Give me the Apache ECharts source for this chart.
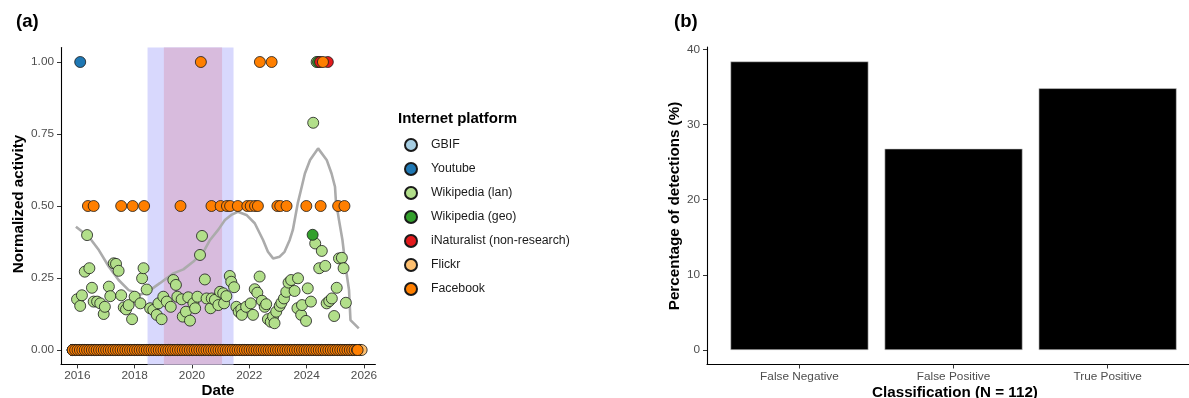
<!DOCTYPE html>
<html>
<head>
<meta charset="utf-8">
<script src="https://cdn.jsdelivr.net/npm/echarts@6/dist/echarts.min.js"></script>
<style>
  html, body { margin: 0; padding: 0; background: #ffffff; }
  #chart { width: 1189px; height: 398px; }
</style>
</head>
<body>
<div id="chart"></div>
<script>
// ---------- Panel (a): normalized activity per platform ----------
const platforms = ['GBIF', 'Youtube', 'Wikipedia (lan)', 'Wikipedia (geo)', 'iNaturalist (non-research)', 'Flickr', 'Facebook'];
const platformColors = ['#a6cee3', '#1f78b4', '#b2df8a', '#33a02c', '#e31a1c', '#fdbf6f', '#ff7f00'];

const yearTicks = [2016, 2018, 2020, 2022, 2024, 2026];
const activityTicks = [0, 0.25, 0.5, 0.75, 1.0];

// non-zero observations as [decimal year, normalized activity]
const wikiLanPoints = [
  [2015.99, 0.176], [2016.10, 0.153], [2016.16, 0.190], [2016.26, 0.272], [2016.34, 0.399],
  [2016.42, 0.284], [2016.51, 0.216], [2016.57, 0.168], [2016.69, 0.168], [2016.80, 0.162],
  [2016.92, 0.125], [2016.96, 0.150], [2017.10, 0.220], [2017.15, 0.187], [2017.27, 0.301],
  [2017.35, 0.299], [2017.44, 0.275], [2017.53, 0.190], [2017.62, 0.148], [2017.70, 0.141],
  [2017.79, 0.156], [2017.91, 0.107], [2018.00, 0.185], [2018.20, 0.162], [2018.26, 0.249],
  [2018.31, 0.284], [2018.42, 0.210], [2018.54, 0.145], [2018.65, 0.139], [2018.77, 0.122],
  [2018.83, 0.162], [2018.94, 0.107], [2019.00, 0.185], [2019.12, 0.168], [2019.26, 0.150],
  [2019.35, 0.243], [2019.44, 0.226], [2019.49, 0.185], [2019.64, 0.176], [2019.68, 0.116],
  [2019.79, 0.133], [2019.87, 0.183], [2019.93, 0.102], [2020.05, 0.162], [2020.11, 0.145],
  [2020.19, 0.185], [2020.28, 0.330], [2020.35, 0.396], [2020.45, 0.245], [2020.51, 0.179],
  [2020.65, 0.145], [2020.69, 0.179], [2020.80, 0.174], [2020.92, 0.156], [2020.98, 0.202],
  [2021.09, 0.197], [2021.12, 0.162], [2021.20, 0.187], [2021.32, 0.257], [2021.37, 0.237],
  [2021.47, 0.218], [2021.55, 0.150], [2021.63, 0.133], [2021.72, 0.141], [2021.74, 0.122],
  [2021.89, 0.150], [2022.05, 0.162], [2022.13, 0.122], [2022.19, 0.211], [2022.28, 0.199],
  [2022.36, 0.255], [2022.44, 0.171], [2022.54, 0.150], [2022.59, 0.159], [2022.65, 0.107],
  [2022.75, 0.098], [2022.83, 0.116], [2022.88, 0.093], [2022.94, 0.133], [2023.06, 0.153],
  [2023.12, 0.164], [2023.21, 0.179], [2023.29, 0.202], [2023.37, 0.234], [2023.46, 0.243],
  [2023.58, 0.205], [2023.68, 0.145], [2023.70, 0.249], [2023.81, 0.122], [2023.84, 0.156],
  [2023.98, 0.101], [2024.04, 0.214], [2024.15, 0.168], [2024.23, 0.789], [2024.30, 0.370],
  [2024.35, 1.000], [2024.44, 0.284], [2024.53, 0.344], [2024.65, 0.292], [2024.70, 0.162],
  [2024.79, 0.170], [2024.88, 0.179], [2024.96, 0.118], [2025.05, 0.216], [2025.13, 0.318],
  [2025.23, 0.320], [2025.29, 0.284], [2025.37, 0.164]
];
const wikiGeoPoints = [[2024.21, 0.40], [2024.40, 1.0]];
const youtubePoints = [[2016.10, 1.0]];
const inatPoints = [[2024.47, 1.0], [2024.74, 1.0]];
const facebookPoints = [
  [2016.37, 0.5], [2016.57, 0.5], [2017.53, 0.5], [2017.93, 0.5], [2018.33, 0.5],
  [2019.60, 0.5], [2020.68, 0.5], [2021.00, 0.5], [2021.22, 0.5], [2021.33, 0.5],
  [2021.60, 0.5], [2021.93, 0.5], [2022.05, 0.5], [2022.20, 0.5], [2022.30, 0.5],
  [2022.98, 0.5], [2023.08, 0.5], [2023.30, 0.5], [2023.99, 0.5], [2024.49, 0.5],
  [2025.10, 0.5], [2025.32, 0.5],
  [2020.31, 1.0], [2022.37, 1.0], [2022.78, 1.0], [2024.57, 1.0]
];

// months with no recorded activity (value 0): first and last month, in decimal years
const zeroRowSpan = {
  'GBIF': [2015.84, 2025.84],
  'Youtube': [2015.84, 2025.84],
  'Wikipedia (lan)': null,
  'Wikipedia (geo)': [2015.84, 2025.84],
  'iNaturalist (non-research)': [2015.84, 2025.84],
  'Flickr': [2015.84, 2025.92],
  'Facebook': [2015.84, 2025.78]
};

// smoothed overall trend
const trendLine = [
  [2015.95, 0.428], [2016.40, 0.393], [2016.75, 0.347], [2017.10, 0.289], [2017.44, 0.243],
  [2017.79, 0.208], [2018.19, 0.193], [2018.40, 0.198], [2018.54, 0.208], [2018.88, 0.232],
  [2019.35, 0.266], [2019.70, 0.280], [2020.05, 0.307], [2020.40, 0.341], [2020.63, 0.382],
  [2020.92, 0.418], [2021.15, 0.451], [2021.37, 0.469], [2021.60, 0.480], [2021.90, 0.469],
  [2022.19, 0.440], [2022.48, 0.382], [2022.65, 0.341], [2022.83, 0.318], [2023.06, 0.324],
  [2023.23, 0.341], [2023.41, 0.382], [2023.52, 0.417], [2023.69, 0.509], [2023.83, 0.567],
  [2023.94, 0.613], [2024.12, 0.660], [2024.40, 0.700], [2024.70, 0.660], [2024.87, 0.613],
  [2024.99, 0.567], [2025.02, 0.520], [2025.13, 0.451], [2025.25, 0.382], [2025.36, 0.289],
  [2025.48, 0.208], [2025.53, 0.104], [2025.82, 0.075]
];

// shaded periods [start, end]
const outerPeriod = [2018.45, 2021.45];
const innerPeriod = [2019.02, 2021.05];

const platformPoints = {
  'GBIF': [],
  'Youtube': youtubePoints,
  'Wikipedia (lan)': wikiLanPoints,
  'Wikipedia (geo)': wikiGeoPoints,
  'iNaturalist (non-research)': inatPoints,
  'Flickr': [],
  'Facebook': facebookPoints
};

// ---------- Panel (b): classification of detections ----------
const classes = ['False Negative', 'False Positive', 'True Positive'];
const classPercent = [38.39, 26.79, 34.82];
const percentTicks = [0, 10, 20, 30, 40];

// ---------- chart ----------
const FONT = '"Liberation Sans", Arial, Helvetica, sans-serif';
const tickText = { color: '#4d4d4d', fontSize: 11.8, fontFamily: FONT };
const TITLE_FONT = 'bold 15.2px ' + FONT;

// one zero-valued point per month between the first and last month
function zeroRow(span) {
  const out = [];
  if (!span) return out;
  for (let t = span[0]; t <= span[1] + 1e-6; t += 1 / 12) out.push([t, 0]);
  if (out.length && out[out.length - 1][0] < span[1] - 1e-6) out.push([span[1], 0]);
  return out;
}

const scatterSeries = platforms.map((name, i) => ({
  name: name,
  type: 'scatter',
  xAxisIndex: 0,
  yAxisIndex: 0,
  z: 3,
  symbol: 'circle',
  symbolSize: 11,
  itemStyle: { color: platformColors[i], borderColor: '#1a1a1a', borderWidth: 0.8, opacity: 1 },
  emphasis: { disabled: true },
  data: zeroRow(zeroRowSpan[name]).concat(platformPoints[name])
}));

const chart = echarts.init(document.getElementById('chart'), null, { renderer: 'canvas' });

chart.setOption({
  animation: false,
  backgroundColor: '#ffffff',
  textStyle: { fontFamily: FONT },
  grid: [
    { left: 61, top: 47.6, width: 314.4, height: 316.8, containLabel: false },
    { left: 707, top: 47, width: 482, height: 317.5, containLabel: false }
  ],
  xAxis: [
    {
      gridIndex: 0, type: 'value', min: 2015.43, max: 2026.40,
      axisLine: { show: true, onZero: false, lineStyle: { color: '#000', width: 1.1 } },
      axisTick: { show: true, length: 4, customValues: yearTicks, lineStyle: { color: '#333', width: 1 } },
      axisLabel: { ...tickText, margin: 5, customValues: yearTicks, formatter: v => String(Math.round(v)) },
      splitLine: { show: false }
    },
    {
      // the panel continues past the right edge of the canvas
      gridIndex: 1, type: 'value', min: 0.4, max: 3.528,
      axisLine: { show: true, onZero: false, lineStyle: { color: '#000', width: 1.1 } },
      axisTick: { show: true, length: 4, customValues: [1, 2, 3], lineStyle: { color: '#333', width: 1 } },
      axisLabel: { ...tickText, margin: 6, customValues: [1, 2, 3], formatter: v => classes[Math.round(v) - 1] },
      splitLine: { show: false }
    }
  ],
  yAxis: [
    {
      gridIndex: 0, type: 'value', min: -0.05, max: 1.05,
      axisLine: { show: true, onZero: false, lineStyle: { color: '#000', width: 1.1 } },
      axisTick: { show: true, length: 4, customValues: activityTicks, lineStyle: { color: '#333', width: 1 } },
      axisLabel: { ...tickText, margin: 7, customValues: activityTicks, formatter: v => v.toFixed(2) },
      splitLine: { show: false }
    },
    {
      gridIndex: 1, type: 'value', min: -1.92, max: 40.31,
      axisLine: { show: true, onZero: false, lineStyle: { color: '#000', width: 1.1 } },
      axisTick: { show: true, length: 4, customValues: percentTicks, lineStyle: { color: '#333', width: 1 } },
      axisLabel: { ...tickText, margin: 7, customValues: percentTicks, formatter: v => String(Math.round(v)) },
      splitLine: { show: false }
    }
  ],
  legend: {
    data: platforms,
    orient: 'vertical',
    left: 404,
    top: 138,
    padding: 0,
    itemWidth: 12,
    itemHeight: 12,
    itemGap: 10,
    icon: 'circle',
    selectedMode: false,
    textStyle: { fontSize: 12.3, lineHeight: 14, color: '#1a1a1a', fontFamily: FONT, padding: [0, 0, 0, 9] }
  },
  graphic: [
    { type: 'text', left: 16, top: 12, style: { text: '(a)', font: 'bold 18.5px ' + FONT, fill: '#000' } },
    { type: 'text', left: 674, top: 12, style: { text: '(b)', font: 'bold 18.5px ' + FONT, fill: '#000' } },
    { type: 'text', x: 398, y: 118.5, style: { text: 'Internet platform', font: 'bold 15px ' + FONT, fill: '#000', textAlign: 'left', textVerticalAlign: 'middle' } },
    { type: 'text', x: 18.5, y: 204, rotation: Math.PI / 2,
      style: { text: 'Normalized activity', font: TITLE_FONT, fill: '#000', textAlign: 'center', textVerticalAlign: 'middle' } },
    { type: 'text', x: 218, y: 391, style: { text: 'Date', font: TITLE_FONT, fill: '#000', textAlign: 'center', textVerticalAlign: 'middle' } },
    { type: 'text', x: 675, y: 206, rotation: Math.PI / 2,
      style: { text: 'Percentage of detections (%)', font: TITLE_FONT, fill: '#000', textAlign: 'center', textVerticalAlign: 'middle' } },
    { type: 'text', x: 955, y: 393, style: { text: 'Classification (N = 112)', font: TITLE_FONT, fill: '#000', textAlign: 'center', textVerticalAlign: 'middle' } }
  ],
  series: [
    {
      name: 'periods',
      type: 'line',
      xAxisIndex: 0, yAxisIndex: 0,
      z: 1,
      data: [],
      silent: true,
      markArea: {
        silent: true,
        data: [
          [{ xAxis: outerPeriod[0], itemStyle: { color: '#d8d8fd' } }, { xAxis: outerPeriod[1] }],
          [{ xAxis: innerPeriod[0], itemStyle: { color: '#d8bbdd' } }, { xAxis: innerPeriod[1] }]
        ]
      }
    },
    {
      name: 'trend',
      type: 'line',
      xAxisIndex: 0, yAxisIndex: 0,
      z: 2,
      showSymbol: false,
      silent: true,
      lineStyle: { color: '#ababab', width: 2.6 },
      data: trendLine
    },
    ...scatterSeries,
    {
      name: 'detections',
      type: 'bar',
      xAxisIndex: 1, yAxisIndex: 1,
      barWidth: 138,
      itemStyle: { color: '#000000', borderColor: '#d0d0d0', borderWidth: 0.6 },
      emphasis: { disabled: true },
      data: classPercent.map((v, i) => [i + 1, v])
    }
  ]
});
</script>
</body>
</html>
